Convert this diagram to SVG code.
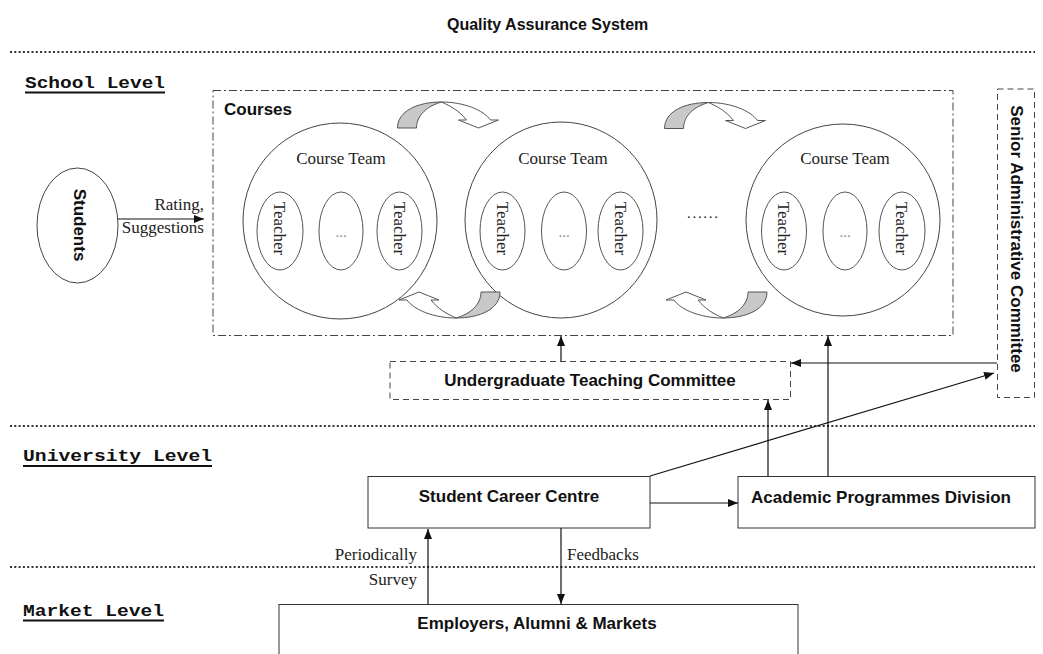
<svg xmlns="http://www.w3.org/2000/svg" width="1043" height="654" viewBox="0 0 1043 654">
  <style>
    .bg { fill: #ffffff; }
    .title { font-family: "Liberation Sans", Arial, sans-serif; font-weight: bold; font-size: 16px; fill: #111; }
    .lbl { font-family: "Liberation Sans", Arial, sans-serif; font-weight: bold; font-size: 17px; fill: #111; }
    .lvl { font-family: "Liberation Mono", "Courier New", monospace; font-weight: bold; font-size: 16px; fill: #111; }
    .ser { font-family: "Liberation Serif", "Times New Roman", serif; font-size: 17px; fill: #222; }
    .dots { font-family: "Liberation Serif", "Times New Roman", serif; font-size: 15px; fill: #888; }
    .sep { stroke: #333; stroke-width: 2; stroke-dasharray: 2 2.3; fill: none; }
    .uline { stroke: #111; stroke-width: 2; }
    .box { fill: #fff; stroke: #333; stroke-width: 1; }
    .dashdot { fill: none; stroke: #444; stroke-width: 1; stroke-dasharray: 8 3 2 3; }
    .dash { fill: #fff; stroke: #444; stroke-width: 1; stroke-dasharray: 6 4; }
    .team { fill: none; stroke: #444; stroke-width: 1; }
    .member { fill: none; stroke: #555; stroke-width: 1; }
    .conn { stroke: #111; stroke-width: 1.2; fill: none; marker-end: url(#head); }
    .curl-back { fill: #c8c8c8; stroke: #555; stroke-width: 1; }
    .curl-front { fill: #fff; stroke: #555; stroke-width: 1; }
  </style>
  <defs>
    <marker id="head" markerUnits="userSpaceOnUse" markerWidth="10" markerHeight="8" refX="10" refY="4" orient="auto">
      <path d="M0,0 L10,4 L0,8 z" fill="#111"/>
    </marker>
    <!-- curved hand-over arrow between neighbouring course teams -->
    <g id="curl">
      <path class="curl-back" d="M-50,13 C-50,-4 -30,-13 -6,-13 C-20,-9 -31,0 -31,13 Z"/>
      <path class="curl-front" d="M-6,-13 C16,-13 36,-5 43,5 L51,5 L31,13 L11,5 L19,5 C12,-4 3,-9 -6,-13 Z"/>
    </g>
  </defs>

  <rect class="bg" x="0" y="0" width="1043" height="654"/>

  <!-- heading and level separators -->
  <text class="title" x="447" y="30">Quality Assurance System</text>
  <line class="sep" x1="10" y1="52" x2="1035" y2="52"/>
  <line class="sep" x1="10" y1="426" x2="1035" y2="426"/>
  <line class="sep" x1="10" y1="567" x2="1035" y2="567"/>

  <g id="level-labels">
    <text class="lvl" x="25" y="88" textLength="140" lengthAdjust="spacingAndGlyphs">School Level</text>
    <line class="uline" x1="25" y1="92.5" x2="165" y2="92.5"/>
    <text class="lvl" x="23" y="461" textLength="189" lengthAdjust="spacingAndGlyphs">University Level</text>
    <line class="uline" x1="23" y1="466" x2="212" y2="466"/>
    <text class="lvl" x="23" y="616" textLength="141" lengthAdjust="spacingAndGlyphs">Market Level</text>
    <line class="uline" x1="23" y1="620.5" x2="164" y2="620.5"/>
  </g>

  <!-- school level -->
  <g id="students">
    <ellipse class="team" cx="77.5" cy="225.5" rx="40.5" ry="57.5"/>
    <text class="lbl" transform="translate(80,225) rotate(90)" x="0" y="6" text-anchor="middle">Students</text>
  </g>

  <g id="courses">
    <rect class="dashdot" x="213" y="90.5" width="740" height="245"/>
    <text class="lbl" x="224" y="115">Courses</text>
  </g>

  <g id="course-team-1">
    <ellipse class="team" cx="340" cy="221" rx="97" ry="98"/>
    <text class="ser" x="341" y="164" text-anchor="middle">Course Team</text>
    <ellipse class="member" cx="280" cy="231" rx="23" ry="39"/>
    <text class="ser" transform="translate(280,228.5) rotate(90)" x="0" y="6" text-anchor="middle">Teacher</text>
    <ellipse class="member" cx="341" cy="231" rx="22" ry="39"/>
    <text class="dots" x="341" y="237" text-anchor="middle">...</text>
    <ellipse class="member" cx="399.5" cy="231" rx="22.5" ry="39"/>
    <text class="ser" transform="translate(399.5,228.5) rotate(90)" x="0" y="6" text-anchor="middle">Teacher</text>
  </g>

  <g id="course-team-2">
    <ellipse class="team" cx="561" cy="220" rx="96" ry="98"/>
    <text class="ser" x="563" y="164" text-anchor="middle">Course Team</text>
    <ellipse class="member" cx="502.5" cy="231" rx="22.5" ry="39"/>
    <text class="ser" transform="translate(502.5,228.5) rotate(90)" x="0" y="6" text-anchor="middle">Teacher</text>
    <ellipse class="member" cx="564" cy="231" rx="22.5" ry="39"/>
    <text class="dots" x="564" y="237" text-anchor="middle">...</text>
    <ellipse class="member" cx="620.5" cy="231" rx="22.5" ry="39"/>
    <text class="ser" transform="translate(620.5,228.5) rotate(90)" x="0" y="6" text-anchor="middle">Teacher</text>
  </g>

  <g id="more-teams">
    <text class="ser" x="687" y="218" textLength="31" lengthAdjust="spacing" style="font-size:15px">......</text>
  </g>

  <g id="course-team-3">
    <ellipse class="team" cx="843" cy="220" rx="97" ry="96"/>
    <text class="ser" x="845" y="164" text-anchor="middle">Course Team</text>
    <ellipse class="member" cx="784" cy="231" rx="22.5" ry="39"/>
    <text class="ser" transform="translate(784,228.5) rotate(90)" x="0" y="6" text-anchor="middle">Teacher</text>
    <ellipse class="member" cx="845" cy="231" rx="22" ry="39"/>
    <text class="dots" x="845" y="237" text-anchor="middle">...</text>
    <ellipse class="member" cx="902" cy="231" rx="23" ry="39"/>
    <text class="ser" transform="translate(902,228.5) rotate(90)" x="0" y="6" text-anchor="middle">Teacher</text>
  </g>

  <g id="handover-arrows">
    <use href="#curl" transform="translate(447.5,115)"/>
    <use href="#curl" transform="translate(714.5,115.5)"/>
    <use href="#curl" transform="translate(450,305) rotate(180)"/>
    <use href="#curl" transform="translate(717,305) rotate(180)"/>
  </g>

  <g id="undergraduate-teaching-committee">
    <rect class="dash" x="390" y="361.5" width="400.5" height="38"/>
    <text class="lbl" x="590" y="386" text-anchor="middle">Undergraduate Teaching Committee</text>
  </g>

  <g id="senior-administrative-committee">
    <rect class="dash" x="997.5" y="89" width="37" height="308.5"/>
    <text class="lbl" transform="translate(1017,239) rotate(90)" x="0" y="6" text-anchor="middle">Senior Administrative Committee</text>
  </g>

  <!-- university level -->
  <g id="student-career-centre">
    <rect class="box" x="368" y="476.5" width="282" height="51.5"/>
    <text class="lbl" x="509" y="502" text-anchor="middle">Student Career Centre</text>
  </g>

  <g id="academic-programmes-division">
    <rect class="box" x="738" y="476.5" width="297" height="51.5"/>
    <text class="lbl" x="881" y="503" text-anchor="middle">Academic Programmes Division</text>
  </g>

  <!-- market level -->
  <g id="employers-alumni-markets">
    <rect class="box" x="279" y="604.5" width="519" height="60"/>
    <text class="lbl" x="537" y="629" text-anchor="middle">Employers, Alumni &amp; Markets</text>
  </g>

  <g id="connectors">
    <line class="conn" x1="118" y1="219" x2="204" y2="219"/>
    <line class="conn" x1="561" y1="361" x2="561" y2="336"/>
    <line class="conn" x1="828" y1="476" x2="828" y2="336"/>
    <line class="conn" x1="768" y1="476" x2="768" y2="400"/>
    <line class="conn" x1="997" y1="363" x2="791" y2="363"/>
    <line class="conn" x1="650" y1="476" x2="994" y2="373"/>
    <line class="conn" x1="650" y1="503" x2="738" y2="503"/>
    <line class="conn" x1="428" y1="604" x2="428" y2="529"/>
    <line class="conn" x1="561" y1="528" x2="561" y2="604"/>
  </g>

  <g id="connector-labels">
    <text class="ser" x="204" y="210" text-anchor="end">Rating,</text>
    <text class="ser" x="204" y="233" text-anchor="end">Suggestions</text>
    <text class="ser" x="417" y="560" text-anchor="end">Periodically</text>
    <text class="ser" x="417" y="585" text-anchor="end">Survey</text>
    <text class="ser" x="567" y="560">Feedbacks</text>
  </g>
</svg>
